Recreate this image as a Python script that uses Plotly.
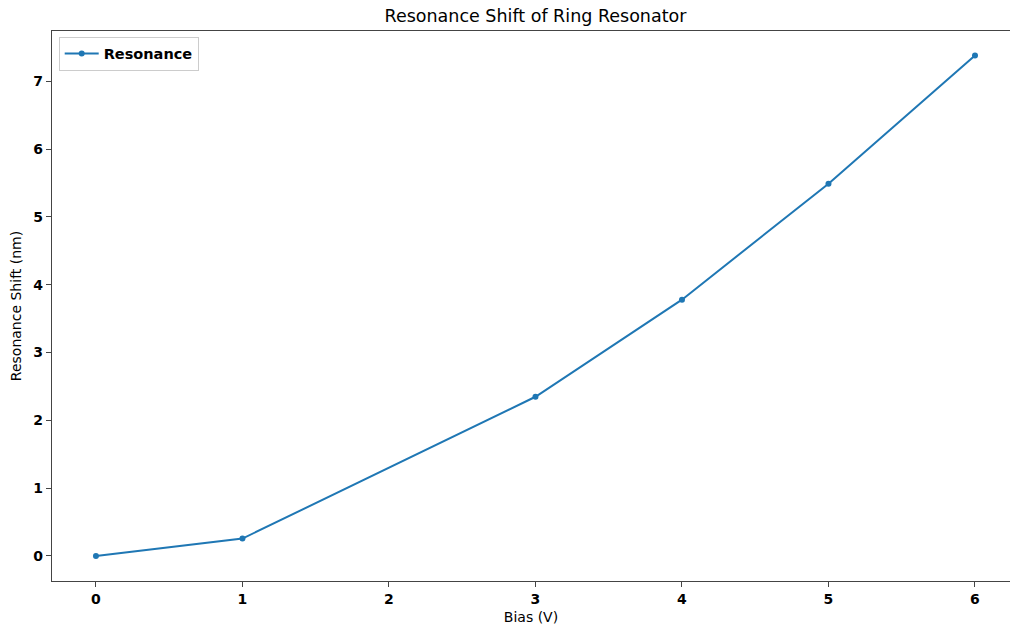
import plotly.graph_objects as go

# Bias voltage (V) and measured resonance shift (nm)
bias_v = [0, 1, 3, 4, 5, 6]
shift_nm = [0.0, 0.257, 2.348, 3.78, 5.49, 7.38]
x_ticks = [0, 1, 2, 3, 4, 5, 6]
y_ticks = [0, 1, 2, 3, 4, 5, 6, 7]

FONT = "DejaVu Sans"
AXIS_COLOR = "#444444"

fig = go.Figure()
fig.add_trace(go.Scatter(
    x=bias_v, y=shift_nm,
    mode="lines+markers",
    name="<b>Resonance</b>",
    line=dict(color="#1f77b4", width=2),
    marker=dict(color="#1f77b4", size=6),
))

fig.update_layout(
    width=1010, height=633,
    margin=dict(l=52, r=0, t=31, b=52),
    paper_bgcolor="white", plot_bgcolor="white",
    font=dict(family=FONT, color="black"),
    title=dict(text="Resonance Shift of Ring Resonator",
               xref="paper", x=0.5047, xanchor="center",
               yref="container", y=0.975, yanchor="middle",
               font=dict(size=17.5, family=FONT)),
    showlegend=True,
    legend=dict(x=0.007, y=0.99, xanchor="left", yanchor="top",
                bgcolor="rgba(255,255,255,0.8)", bordercolor="#cccccc",
                borderwidth=1, font=dict(size=14.5, family=FONT),
                itemwidth=34),
    xaxis=dict(
        range=[-0.3, 6.239], tickvals=x_ticks,
        ticktext=[f"<b>{v}</b>" for v in x_ticks],
        showgrid=False, zeroline=False,
        showline=True, mirror=True, linecolor=AXIS_COLOR, linewidth=1.3,
        ticks="outside", ticklen=5, tickcolor=AXIS_COLOR,
        tickfont=dict(size=14, family=FONT),
        title=dict(text="Bias (V)", font=dict(size=14, family=FONT), standoff=6),
    ),
    yaxis=dict(
        range=[-0.369, 7.742], tickvals=y_ticks,
        ticktext=[f"<b>{v}</b>" for v in y_ticks],
        showgrid=False, zeroline=False,
        showline=True, mirror=False, linecolor=AXIS_COLOR, linewidth=1.3,
        ticks="outside", ticklen=5, tickcolor=AXIS_COLOR,
        tickfont=dict(size=14, family=FONT),
        title=dict(text="Resonance Shift (nm)", font=dict(size=14, family=FONT), standoff=8),
    ),
)

fig.write_html("out.html")
